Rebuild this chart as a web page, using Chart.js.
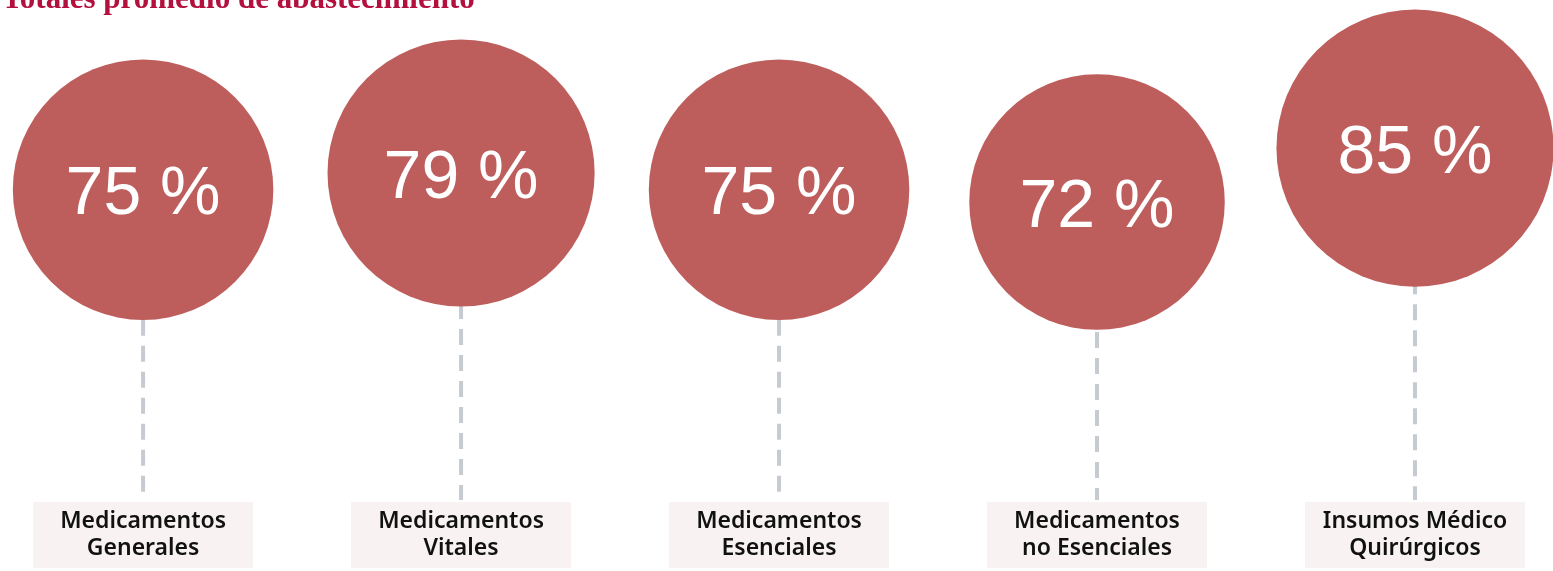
<!DOCTYPE html>
<html lang="es">
<head>
<meta charset="utf-8">
<title>Totales promedio de abastecimiento</title>
<script src="https://cdn.jsdelivr.net/npm/chart.js@4"></script>
<style>
  html, body { margin: 0; padding: 0; background: #ffffff; }
  #wrap { position: relative; width: 1553px; height: 571px; }
</style>
</head>
<body>
<div id="wrap"><canvas id="abastoChart"></canvas></div>
<script>
// Datos: porcentaje promedio de abastecimiento por categoría
const titulo = 'Totales promedio de abastecimiento';
const categorias = [
  ['Medicamentos', 'Generales'],
  ['Medicamentos', 'Vitales'],
  ['Medicamentos', 'Esenciales'],
  ['Medicamentos', 'no Esenciales'],
  ['Insumos Médico', 'Quirúrgicos']
];
const porcentajes = [75, 79, 75, 72, 85];

const COLOR_CIRCULO = '#be5e5c';
const COLOR_TITULO = '#b3103d';
const BASE_ETIQUETAS = 500; // donde empiezan las cajas de texto

// Líneas punteadas, cajas y textos de cada categoría
const etiquetasPlugin = {
  id: 'etiquetas',
  beforeDatasetsDraw(chart) {
    const ctx = chart.ctx;
    const meta = chart.getDatasetMeta(0);
    ctx.save();
    meta.data.forEach((pt, i) => {
      // línea punteada desde el círculo hasta la caja
      ctx.strokeStyle = '#c6cad1';
      ctx.lineWidth = 4;
      ctx.setLineDash([16, 10]);
      ctx.beginPath();
      ctx.moveTo(pt.x, pt.y);
      ctx.lineTo(pt.x, BASE_ETIQUETAS);
      ctx.stroke();

      // caja de fondo
      ctx.setLineDash([]);
      ctx.fillStyle = '#f8f3f2';
      ctx.fillRect(pt.x - 110, BASE_ETIQUETAS + 2, 220, 66);

      // texto de la categoría (dos líneas)
      ctx.fillStyle = '#111111';
      ctx.font = '600 23px "Noto Sans", sans-serif';
      ctx.textAlign = 'center';
      ctx.textBaseline = 'alphabetic';
      categorias[i].forEach((linea, j) => {
        ctx.fillText(linea, pt.x, 528 + j * 27);
      });
    });
    ctx.restore();
  },
  afterDatasetsDraw(chart) {
    const ctx = chart.ctx;
    const meta = chart.getDatasetMeta(0);
    ctx.save();
    // valores dentro de los círculos
    ctx.fillStyle = '#ffffff';
    ctx.font = '68px "Liberation Sans", Arial, sans-serif';
    ctx.textAlign = 'center';
    ctx.textBaseline = 'middle';
    meta.data.forEach((pt, i) => {
      ctx.fillText(porcentajes[i] + ' %', pt.x, pt.y + 6);
    });
    // título (cortado en el borde superior)
    ctx.fillStyle = COLOR_TITULO;
    ctx.font = 'bold 31px "Liberation Serif", serif';
    ctx.textAlign = 'left';
    ctx.textBaseline = 'alphabetic';
    ctx.fillText(titulo, 2, 8);
    ctx.restore();
  }
};

new Chart(document.getElementById('abastoChart'), {
  type: 'bubble',
  data: {
    datasets: [{
      label: 'Abastecimiento',
      data: porcentajes.map((v, i) => ({ x: i, y: v })),
      backgroundColor: COLOR_CIRCULO,
      borderWidth: 0,
      hoverBackgroundColor: COLOR_CIRCULO,
      // el radio crece un poco con el porcentaje
      radius: ctx => 68 + ctx.raw.y * 0.83,
      clip: false
    }]
  },
  options: {
    responsive: true,
    maintainAspectRatio: false,
    animation: false,
    layout: { padding: 0, autoPadding: false },
    scales: {
      x: { type: 'linear', min: -0.45, max: 4.434, display: false },
      y: { type: 'linear', min: -16.9, max: 120.7, display: false }
    },
    plugins: {
      legend: { display: false },
      tooltip: { enabled: false }
    }
  },
  plugins: [etiquetasPlugin]
});
</script>
</body>
</html>
